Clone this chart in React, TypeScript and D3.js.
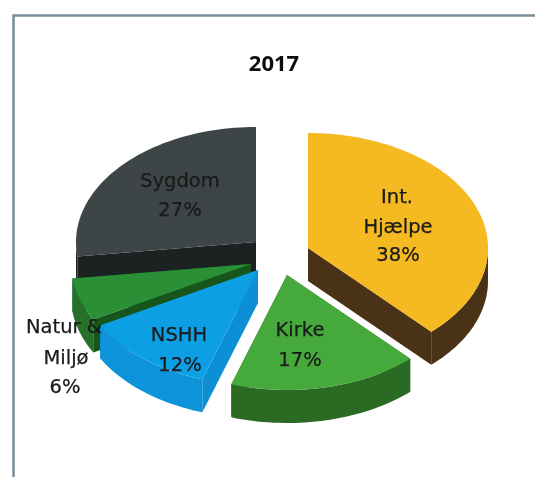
import React from "react";
import * as d3 from "d3";

const categories = ["Int. Hjælpe", "Kirke", "NSHH", "Natur & Miljø", "Sygdom"];
const values = [38, 17, 12, 6, 27];
const title = "2017";

const topColors = ["#f5b921", "#45a93a", "#0f9fe3", "#2a8f35", "#3d4547"];
const wallColors = ["#4a3214", "#28641f", "#0e8fd6", "#14561f", "#1e2123"];
const rimColors = ["#4a3214", "#2a6a22", "#0f93da", "#26702b", "#1e2123"];
const apexes: [number, number][] = [[308, 248], [287, 275], [258, 270], [251, 264], [256, 242]];
const labelLines = [
  [{ t: "Int.", x: 397, y: 203 }, { t: "Hjælpe", x: 398, y: 233 }, { t: "38%", x: 398, y: 261 }],
  [{ t: "Kirke", x: 300, y: 336 }, { t: "17%", x: 300, y: 366 }],
  [{ t: "NSHH", x: 179, y: 341 }, { t: "12%", x: 180, y: 371 }],
  [{ t: "Natur &", x: 64, y: 333 }, { t: "Miljø", x: 66, y: 364 }, { t: "6%", x: 65, y: 393 }],
  [{ t: "Sygdom", x: 180, y: 187 }, { t: "27%", x: 180, y: 216 }],
];
const RX = 180, RY = 115, DEPTH = 33;

const pie = d3.pie<number>().sort(null);
const arcs = pie(values);
const line = d3.line<[number, number]>();

function pt(a: [number, number], ang: number, dy = 0): [number, number] {
  return [a[0] + RX * Math.sin(ang), a[1] - RY * Math.cos(ang) + dy];
}
function samples(s: number, e: number) {
  const n = Math.max(2, Math.ceil((e - s) / 0.03));
  return d3.range(n + 1).map((i) => s + ((e - s) * i) / n);
}

export default function App() {
  // back to front: Sygdom, Natur, NSHH, Kirke, Int. Hjælpe
  const order = [4, 3, 2, 1, 0];
  return (
    <svg width={535} height={477} style={{ position: "absolute", left: 0, top: 0, background: "#fff" }}>
      <defs>
        <filter id="scan" x="-5%" y="-5%" width="110%" height="110%">
          <feGaussianBlur stdDeviation="0.7" />
        </filter>
      </defs>
      <g filter="url(#scan)">
        <path d="M13.5,477 L13.5,15.5 L535,15.5" fill="none" stroke="#7b8c98" strokeWidth={2.5} />
        {order.map((i) => {
          const d = arcs[i];
          const a = apexes[i];
          const top = samples(d.startAngle, d.endAngle).map((g) => pt(a, g));
          const topPts: [number, number][] = [a, ...top];
          const lo = Math.max(d.startAngle, Math.PI / 2);
          const hi = Math.min(d.endAngle, (3 * Math.PI) / 2);
          const rim: [number, number][] | null =
            hi > lo
              ? [
                  ...samples(lo, hi).map((g) => pt(a, g)),
                  ...samples(lo, hi).reverse().map((g) => pt(a, g, DEPTH)),
                ]
              : null;
          const wall = (g: number): [number, number][] => [a, pt(a, g), pt(a, g, DEPTH), [a[0], a[1] + DEPTH]];
          return (
            <g key={categories[i]}>
              <path d={line(wall(d.startAngle)) + "Z"} fill={wallColors[i]} />
              <path d={line(wall(d.endAngle)) + "Z"} fill={wallColors[i]} />
              {rim && <path d={line(rim) + "Z"} fill={rimColors[i]} />}
              <path d={line(topPts) + "Z"} fill={topColors[i]} />
            </g>
          );
        })}
        <text x={274} y={71} textAnchor="middle" fontFamily="'Open Sans', sans-serif" fontWeight={700} fontSize={22} fill="#111">
          {title}
        </text>
        {labelLines.flat().map((l) => (
          <text key={l.t} x={l.x} y={l.y} textAnchor="middle" fontFamily="'DejaVu Sans', sans-serif" fontSize={19.5} fill="#1a1a1a" stroke="#1a1a1a" strokeWidth={0.25}>
            {l.t}
          </text>
        ))}
      </g>
    </svg>
  );
}
